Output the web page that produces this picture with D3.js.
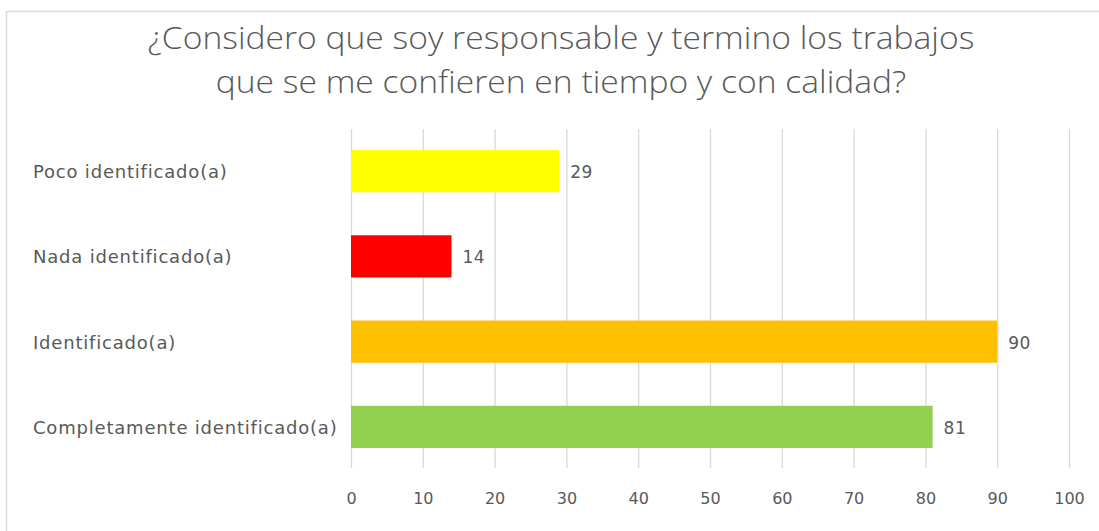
<!DOCTYPE html>
<html><head><meta charset="utf-8">
<script src="https://cdn.jsdelivr.net/npm/d3@7"></script>
<style>body{margin:0;background:#fff;}svg{display:block;}</style>
</head><body>
<script>
const titleLines = ["¿Considero que soy responsable y termino los trabajos", "que se me confieren en tiempo y con calidad?"];
const categories = ["Poco identificado(a)", "Nada identificado(a)", "Identificado(a)", "Completamente identificado(a)"];
const values = [29, 14, 90, 81];
const colors = ["#FFFF00", "#FF0000", "#FFC000", "#92D050"];
const xTicks = [0, 10, 20, 30, 40, 50, 60, 70, 80, 90, 100];

const W = 1099, H = 531;
const svg = d3.select("body").append("svg").attr("width", W).attr("height", H);

// chart frame
svg.append("path").attr("d", `M6.5,${H} V11.5 H${W}`).attr("fill", "none").attr("stroke", "#d9d9d9").attr("stroke-width", 1.5);

const x = d3.scaleLinear().domain([0, 100]).range([351, 1069]);
const y = d3.scaleBand().domain(categories).range([128.5, 469.5]).paddingInner(0.505).paddingOuter(0.2525);

const textColor = "#595959";
const font = "'DejaVu Sans', sans-serif";

// gridlines
svg.append("g").selectAll("line").data(xTicks).join("line")
  .attr("x1", d => x(d) + 0.5).attr("x2", d => x(d) + 0.5)
  .attr("y1", 129).attr("y2", 468)
  .attr("stroke", "#d9d9d9").attr("stroke-width", 1.3);

// x axis labels
const xAxis = d3.axisBottom(x).tickValues(xTicks).tickSize(0).tickPadding(0);
const gx = svg.append("g").attr("transform", "translate(0,504)").call(xAxis);
gx.select(".domain").remove();
gx.selectAll("text").attr("fill", textColor).style("font-family", font).style("font-size", "16px").attr("dy", "0").attr("y", 0);

// bars
svg.append("g").selectAll("rect").data(values).join("rect")
  .attr("x", x(0)).attr("y", (d, i) => y(categories[i]))
  .attr("width", d => x(d) - x(0)).attr("height", y.bandwidth())
  .attr("fill", (d, i) => colors[i]);

// value labels
svg.append("g").selectAll("text").data(values).join("text")
  .attr("x", d => x(d) + 11).attr("y", (d, i) => y(categories[i]) + y.bandwidth() / 2 + 7)
  .attr("fill", textColor)
  .style("font-family", font).style("font-size", "17px").style("letter-spacing", "0.5px").text(d => d);

// category labels
svg.append("g").selectAll("text").data(categories).join("text")
  .attr("x", 33).attr("y", d => y(d) + y.bandwidth() / 2 + 7)
  .attr("fill", textColor)
  .style("font-family", font).style("font-size", "18px").style("letter-spacing", "0.8px").text(d => d);

// title
const tY = [49, 93];
const t = svg.append("g").selectAll("text").data(titleLines).join("text")
  .attr("x", 561).attr("y", (d, i) => tY[i]).attr("text-anchor", "middle")
  .attr("fill", textColor).style("font-family", "'Open Sans', sans-serif")
  .style("font-weight", 300).style("font-size", "32px").text(d => d);
// fit first line width to the narrow original font
const w0 = t.node().getComputedTextLength();
const sx = 827 / w0;
t.attr("transform", `translate(561,0) scale(${sx},1) translate(-561,0)`);
</script>
</body></html>
